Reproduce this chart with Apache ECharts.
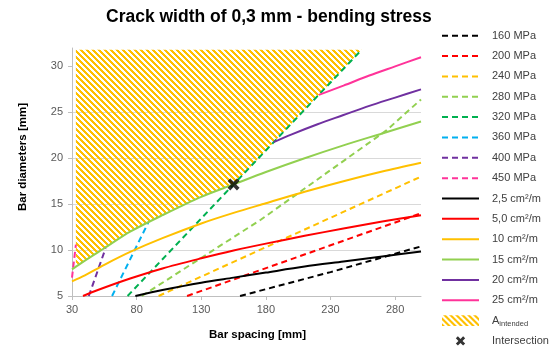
<!DOCTYPE html>
<html><head><meta charset="utf-8">
<script src="https://cdn.jsdelivr.net/npm/echarts@6.0.0/dist/echarts.min.js"></script>
<style>html,body{margin:0;padding:0;background:#fff}#c{width:553px;height:349px}</style>
</head><body><div id="c"></div>
<script>
// ---- data ----
const xTickValues = [30, 80, 130, 180, 230, 280];
const yTickValues = [5, 10, 15, 20, 25, 30];

// dashed lines: steel stress (bar spacing, bar diameter)
const s160 = [[160, 5.0], [230, 7.6], [300, 10.4]];
const s200 = [[119, 5.0], [300, 14.0]];
const s240 = [[97, 5.0], [300, 18.0]];
const s280 = [[84, 5.0], [176, 13.3], [273, 23.0], [300, 26.4]];
const s320 = [[73, 5.0], [155, 17.15], [254, 31.8]];
const s360 = [[61, 5.0], [89, 13.0]];
const s400 = [[43, 5.0], [56, 10.2]];
const s450 = [[30, 7.0], [33, 10.6]];

// solid lines: reinforcement area
const a25 = [[79, 5.0], [100, 5.65], [130, 6.45], [155, 7.0], [180, 7.55], [210, 8.2], [240, 8.75], [270, 9.3], [300, 9.85]];
const a50 = [[38.5, 5.0], [50, 5.65], [75, 6.9], [100, 8.0], [130, 9.1], [155, 9.95], [180, 10.7], [210, 11.55], [240, 12.35], [270, 13.1], [300, 13.8]];
const a100 = [[30, 6.6], [40, 7.25], [55, 8.4], [75, 9.8], [100, 11.3], [130, 12.9], [155, 14.05], [180, 15.1], [210, 16.35], [240, 17.5], [270, 18.55], [300, 19.5]];
const a150 = [[30, 7.9], [40, 8.85], [55, 10.2], [75, 12.0], [100, 13.8], [130, 15.8], [155, 17.15], [180, 18.5], [210, 20.0], [240, 21.4], [270, 22.7], [300, 24.0]];
const a200 = [[186, 21.75], [200, 22.6], [220, 23.7], [240, 24.7], [260, 25.7], [280, 26.6], [300, 27.5]];
const a250 = [[221, 26.9], [240, 27.9], [260, 29.0], [280, 30.0], [300, 31.0]];

// hatched region outline (A_intended)
const hatchOutline = [[33, 8.2], [40, 8.85], [55, 10.2], [75, 12.0], [100, 13.8], [130, 15.8], [155, 17.15], [254, 31.8], [33, 31.8]];
const intersection = [[155, 17.15]];

const stressNames = ['160 MPa', '200 MPa', '240 MPa', '280 MPa', '320 MPa', '360 MPa', '400 MPa', '450 MPa'];
const areaNames = ['2,5 cm²/m', '5,0 cm²/m', '10 cm²/m', '15 cm²/m', '20 cm²/m', '25 cm²/m'];
const hatchName = 'A_intended';
const interName = 'Intersection';

// ---- styling ----
const stressSets = [s160, s200, s240, s280, s320, s360, s400, s450];
const areaSets = [a25, a50, a100, a150, a200, a250];
const colors = ['#000000', '#FF0000', '#FFC000', '#92D050', '#00B050', '#00B0F0', '#7030A0', '#FF3399'];
const areaColors = ['#000000', '#FF0000', '#FFC000', '#92D050', '#7030A0', '#FF3399'];
const FONT = 'Liberation Sans';

function makeHatch() {
  const c = document.createElement('canvas');
  c.width = 6; c.height = 6;
  const ctx = c.getContext('2d');
  ctx.fillStyle = '#FFC000';
  for (let y = 0; y < 6; y++) for (let x = 0; x < 6; x++) {
    if ((((x - y) % 6) + 6) % 6 < 3) ctx.fillRect(x, y, 1, 1);
  }
  return c;
}
const hatchPattern = { image: makeHatch(), repeat: 'repeat' };

const series = [];
series.push({
  type: 'custom', name: hatchName, z: 1, silent: true,
  data: [hatchOutline[0]],
  itemStyle: { color: hatchPattern },
  renderItem: function (params, api) {
    const pts = hatchOutline.map(p => api.coord(p));
    return { type: 'polygon', shape: { points: pts }, style: { fill: hatchPattern, stroke: null } };
  }
});
stressSets.forEach((d, i) => series.push({
  type: 'line', name: stressNames[i], data: d, symbol: 'none', z: 3, silent: true,
  lineStyle: { color: colors[i], width: 2, type: [6, 4] }, itemStyle: { color: colors[i] }
}));
areaSets.forEach((d, i) => series.push({
  type: 'line', name: areaNames[i], data: d, symbol: 'none', smooth: 0.3, z: 4, silent: true,
  lineStyle: { color: areaColors[i], width: 2 }, itemStyle: { color: areaColors[i] }
}));
const xPath = 'M0 2.2L2.2 0L5 2.8L7.8 0L10 2.2L7.2 5L10 7.8L7.8 10L5 7.2L2.2 10L0 7.8L2.8 5Z';
series.push({
  type: 'scatter', name: interName, data: intersection, z: 6, silent: true,
  symbol: 'path://' + xPath, symbolSize: 12, itemStyle: { color: '#000' }
});

const clearStyle = { color: 'rgba(0,0,0,0)', borderColor: 'rgba(0,0,0,0)', borderWidth: 0 };
const legendData = stressNames.concat(areaNames).map(n => ({ name: n, itemStyle: clearStyle }));
legendData.push({ name: hatchName, icon: 'path://M0 0H34V10H0Z' });
legendData.push({ name: interName, icon: 'path://M-2.5 -2.5M12.5 12.5M' + xPath.slice(1) });

const chart = echarts.init(document.getElementById('c'), null, { renderer: 'canvas' });
chart.setOption({
  animation: false,
  backgroundColor: '#fff',
  title: {
    text: 'Crack width of 0,3 mm - bending stress', left: 101, top: 3,
    textStyle: { fontFamily: FONT, fontSize: 17.5, fontWeight: 'bold', color: '#000' }
  },
  grid: { left: 72, right: 132, top: 48, bottom: 53 },
  xAxis: {
    type: 'value', min: 30, max: 300,
    name: 'Bar spacing [mm]', nameLocation: 'middle', nameGap: 33,
    nameTextStyle: { fontFamily: FONT, fontSize: 11.5, fontWeight: 'bold', color: '#000', padding: [0, 0, 0, 22] },
    axisLine: { show: true, lineStyle: { color: '#bfbfbf', width: 1 } },
    axisTick: { show: true, customValues: xTickValues, length: 4, lineStyle: { color: '#bfbfbf' } },
    axisLabel: { customValues: xTickValues, fontFamily: FONT, fontSize: 11, color: '#595959', margin: 8 },
    splitLine: { show: false }
  },
  yAxis: {
    type: 'value', min: 5, max: 32,
    name: 'Bar diameters [mm]', nameLocation: 'middle', nameGap: 43, nameRotate: 90,
    nameTextStyle: { fontFamily: FONT, fontSize: 11.5, fontWeight: 'bold', color: '#000', padding: [0, 0, 0, 30] },
    axisLine: { show: true, lineStyle: { color: '#bfbfbf', width: 1 } },
    axisTick: { show: true, customValues: yTickValues, length: 4, lineStyle: { color: '#bfbfbf' } },
    axisLabel: { customValues: yTickValues, fontFamily: FONT, fontSize: 11, color: '#595959', margin: 9 },
    splitLine: { show: true, showMinLine: false, showMaxLine: false, lineStyle: { color: '#d9d9d9', width: 1 } }
  },
  legend: {
    orient: 'vertical', left: 441, top: 28.7, padding: 0,
    itemWidth: 37, itemHeight: 14, itemGap: 6.35,
    selectedMode: false,
    data: legendData,
    formatter: function (name) { return name === hatchName ? '{a|A}{sub|intended}' : name; },
    textStyle: {
      fontFamily: FONT, fontSize: 11, lineHeight: 14, color: '#404040', padding: [0, 0, 0, 8],
      rich: {
        a: { fontFamily: FONT, fontSize: 11, lineHeight: 14, color: '#404040' },
        sub: { fontFamily: FONT, fontSize: 7.5, lineHeight: 14, color: '#404040', padding: [6, 0, 0, 0] }
      }
    }
  },
  series: series
});
</script>
</body></html>
